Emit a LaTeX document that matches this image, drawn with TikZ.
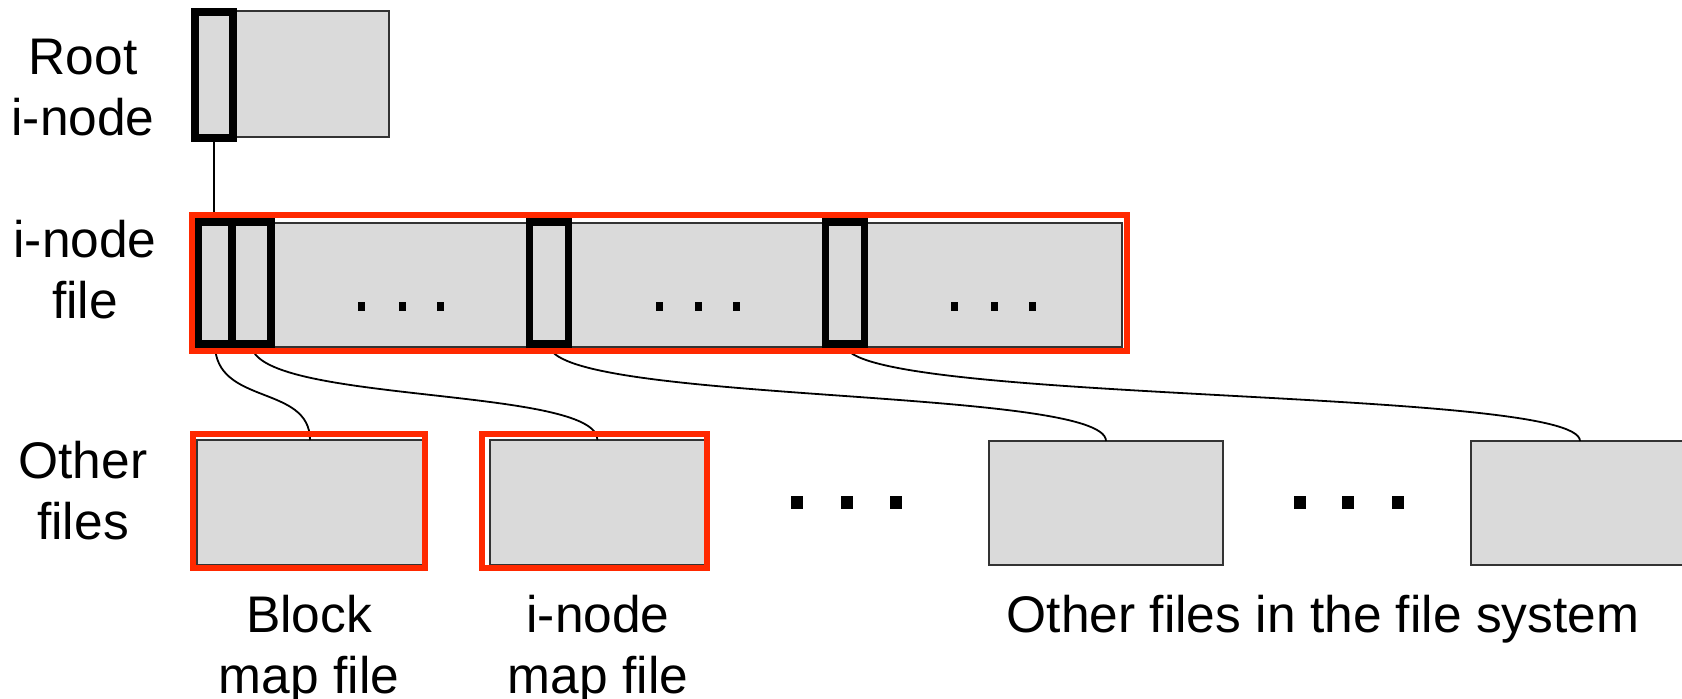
\documentclass[tikz,border=0pt]{standalone}
\usepackage{fontspec}
\setmainfont{Liberation Sans}
\definecolor{boxgray}{RGB}{218,218,218}
\definecolor{hired}{RGB}{255,41,0}
\begin{document}
\begin{tikzpicture}[x=0.5pt,y=-0.5pt,
  every node/.style={inner sep=0pt,outer sep=0pt},
  filebox/.style={draw=black!80,fill=boxgray,line width=0.9pt,rectangle},
  ptrbox/.style={draw=black,line width=3.8pt,rectangle},
  redframe/.style={draw=hired,line width=3pt,rectangle},
  link/.style={draw=black,line width=0.9pt},
  lbl/.style={font=\fontsize{25.75}{30.5}\selectfont,align=center,anchor=base},
  dotA/.style={fill=black,minimum width=3.5pt,minimum height=4.5pt},
  dotB/.style={fill=black,minimum width=6pt,minimum height=6.5pt}
]
\useasboundingbox (0,0) rectangle (1682,698);

% gray boxes
\node[filebox,minimum width=97.5pt,minimum height=63pt] (root) at (291.5,74) {};
\node[filebox,minimum width=463.5pt,minimum height=62pt] (ifile) at (658.5,285) {};
\node[filebox,minimum width=113pt,minimum height=62.5pt] (bmap) at (310,502.5) {};
\node[filebox,minimum width=107.5pt,minimum height=62.5pt] (imap) at (597.5,502.5) {};
\node[filebox,minimum width=117pt,minimum height=62pt] (f3) at (1106,503) {};
\node[filebox,minimum width=109pt,minimum height=62pt] (f4) at (1580,503) {};

% pointer rectangles (geometry only, drawn later)
\path (214,75) node[minimum width=19pt,minimum height=63pt] (rootptr) {};
\path (215,283) node[minimum width=17pt,minimum height=61pt] (p1) {};
\path (251.5,283) node[minimum width=19.5pt,minimum height=61pt] (p2) {};
\path (549,283) node[minimum width=19.5pt,minimum height=61pt] (p3) {};
\path (845,283) node[minimum width=19.5pt,minimum height=61pt] (p4) {};

% connectors
\draw[link] (rootptr.south) -- (rootptr.south |- p1.north);
\draw[link] (p1.south) .. controls +(0,62) and +(0,-56) .. (bmap.north);
\draw[link] (p2.south) .. controls +(0,60) and +(0,-54) .. (imap.north);
\draw[link] (p3.south) .. controls +(0,60) and +(0,-54) .. (f3.north);
\draw[link] (p4.south) .. controls +(0,60) and +(0,-54) .. (f4.north);

% thick pointer outlines
\foreach \n in {rootptr,p1,p2,p3,p4}
  \draw[ptrbox] (\n.south west) rectangle (\n.north east);

% red frames
\node[redframe,minimum width=467.5pt,minimum height=68pt] (rfile) at (659.5,283) {};
\node[redframe,minimum width=116pt,minimum height=67pt] (rbmap) at (309,501) {};
\node[redframe,minimum width=112.5pt,minimum height=67pt] (rimap) at (594.5,501) {};

% dots inside i-node file
\foreach \x [count=\i] in {361,402,440,659,698,736,954,994,1032}
  \node[dotA] (da\i) at (\x,306) {};
% dots between other files
\foreach \x [count=\i] in {797,847,896,1300,1348,1398}
  \node[dotB] (db\i) at (\x,502) {};

% labels (base = baseline of last line)
\node[lbl] (lroot) at (83,135) {Root\\i-node};
\node[lbl] (lfile) at (85,318) {i-node\\file};
\node[lbl] (lother) at (83,539) {Other\\files};
\node[lbl] (lbmap) at (309,693) {Block\\map file};
\node[lbl] (limap) at (598,693) {i-node\\map file};
\node[lbl] (lrest) at (1323,632) {Other files in the file system};
\end{tikzpicture}
\end{document}
